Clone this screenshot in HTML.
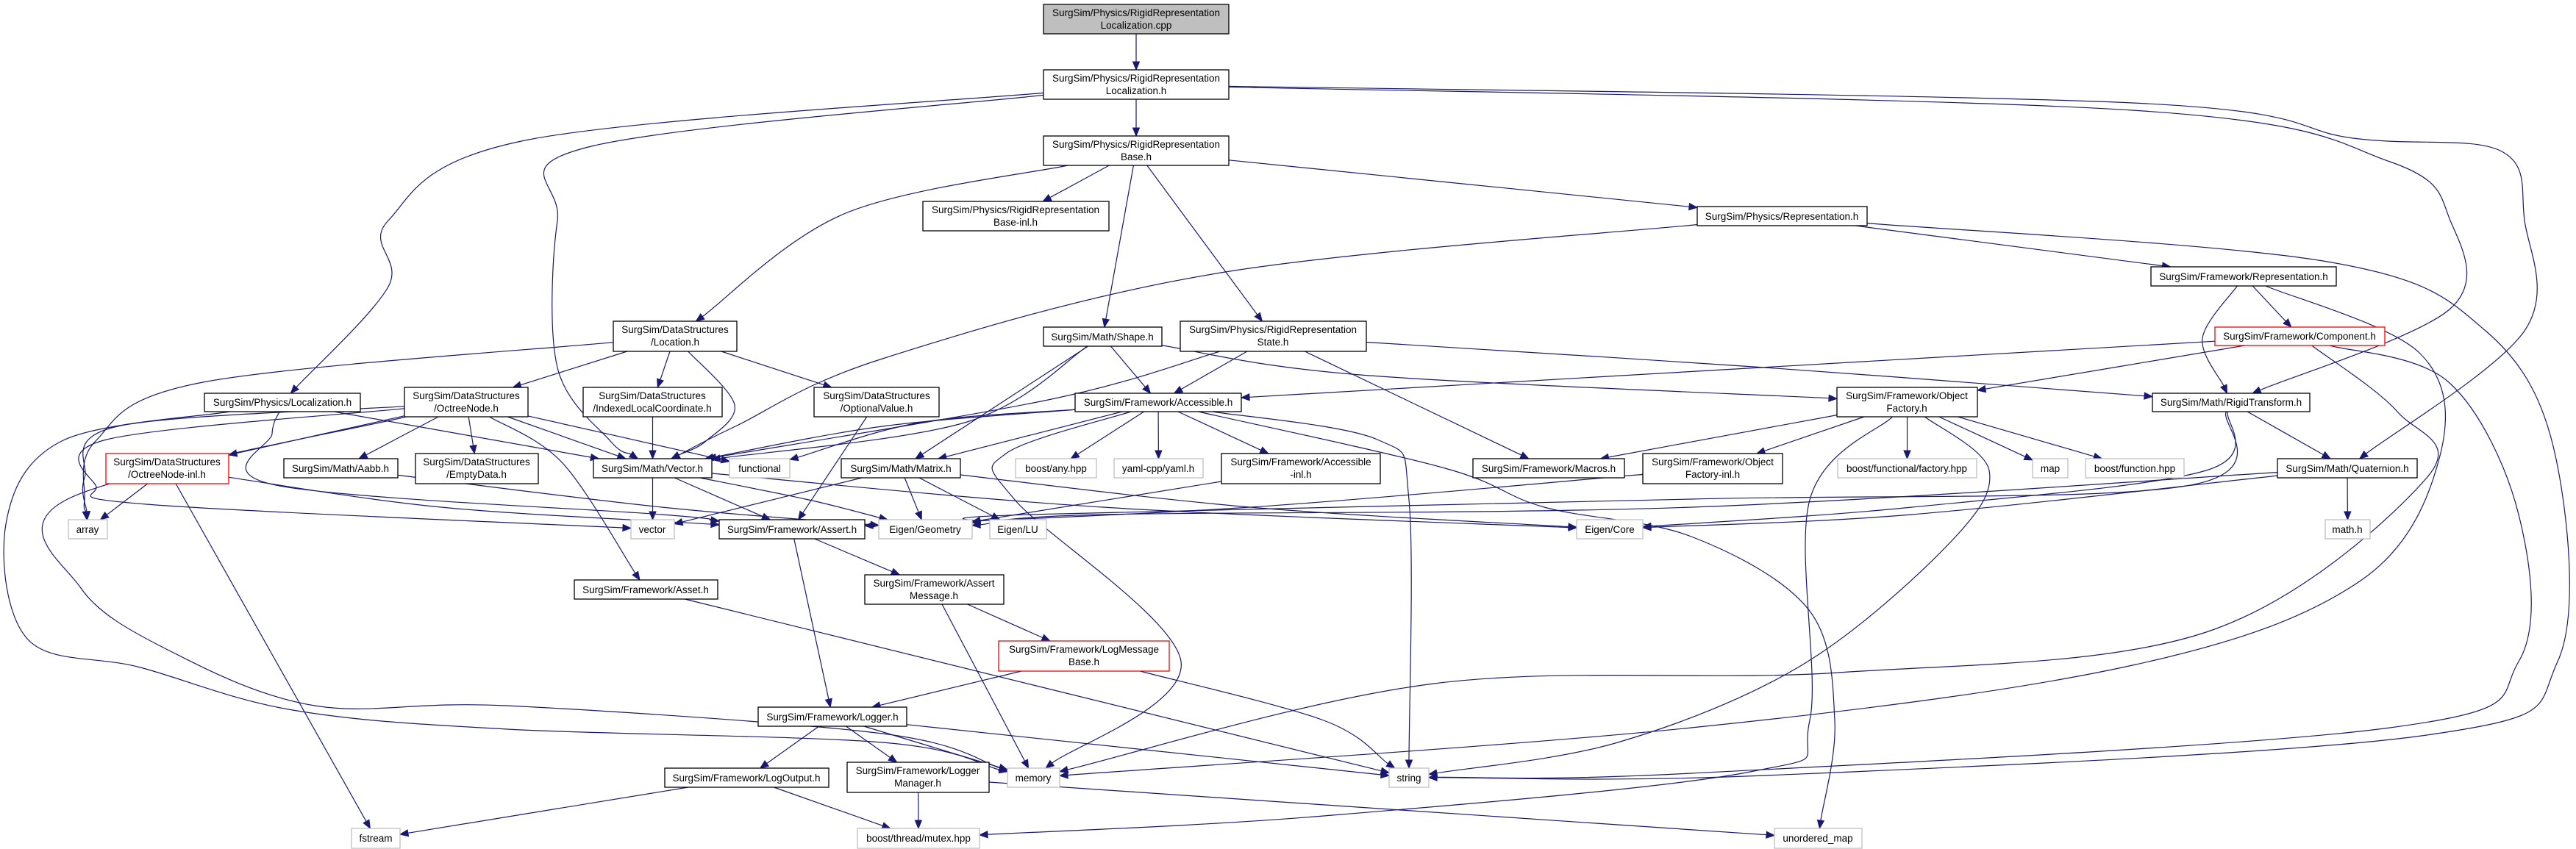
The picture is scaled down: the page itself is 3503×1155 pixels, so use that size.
<!DOCTYPE html>
<html><head><meta charset="utf-8">
<style>
html,body{margin:0;padding:0;background:#fff;}
svg{display:block;}
text{font-family:"Liberation Sans",Arial,sans-serif;font-size:13.5px;fill:#000;}
</style></head><body>
<svg id="g" width="3503" height="1155" viewBox="0 0 3503 1155" xmlns="http://www.w3.org/2000/svg">
<rect width="3503" height="1155" fill="#fff"/>
<g id="edges" fill="none" stroke="#191970" stroke-width="1.2"></g>
<g id="heads" fill="#191970" stroke="#191970" stroke-width="1"></g>
<g id="nodes" stroke-width="1.3">
<rect x="1419" y="6" width="252" height="40" fill="#bfbfbf" stroke="#000"/><text x="1545" y="22" text-anchor="middle">SurgSim/Physics/RigidRepresentation</text><text x="1545" y="39" text-anchor="middle">Localization.cpp</text>
<rect x="1419" y="95" width="252" height="40" fill="#fff" stroke="#000"/><text x="1545" y="111" text-anchor="middle">SurgSim/Physics/RigidRepresentation</text><text x="1545" y="128" text-anchor="middle">Localization.h</text>
<rect x="1419" y="185" width="252" height="40" fill="#fff" stroke="#000"/><text x="1545" y="201" text-anchor="middle">SurgSim/Physics/RigidRepresentation</text><text x="1545" y="218" text-anchor="middle">Base.h</text>
<rect x="1255" y="274" width="253" height="40" fill="#fff" stroke="#000"/><text x="1381" y="290" text-anchor="middle">SurgSim/Physics/RigidRepresentation</text><text x="1381" y="307" text-anchor="middle">Base-inl.h</text>
<rect x="2308" y="281" width="231" height="26" fill="#fff" stroke="#000"/><text x="2423" y="299" text-anchor="middle">SurgSim/Physics/Representation.h</text>
<rect x="2925" y="363" width="252" height="26" fill="#fff" stroke="#000"/><text x="3051" y="381" text-anchor="middle">SurgSim/Framework/Representation.h</text>
<rect x="3012" y="445" width="231" height="25" fill="#fff" stroke="#ff0000"/><text x="3127" y="462" text-anchor="middle">SurgSim/Framework/Component.h</text>
<rect x="2927" y="535" width="214" height="25" fill="#fff" stroke="#000"/><text x="3034" y="552" text-anchor="middle">SurgSim/Math/RigidTransform.h</text>
<rect x="2498" y="527" width="191" height="40" fill="#fff" stroke="#000"/><text x="2593" y="543" text-anchor="middle">SurgSim/Framework/Object</text><text x="2593" y="560" text-anchor="middle">Factory.h</text>
<rect x="1419" y="445" width="161" height="26" fill="#fff" stroke="#000"/><text x="1499" y="463" text-anchor="middle">SurgSim/Math/Shape.h</text>
<rect x="1605" y="437" width="253" height="41" fill="#fff" stroke="#000"/><text x="1731" y="453" text-anchor="middle">SurgSim/Physics/RigidRepresentation</text><text x="1731" y="470" text-anchor="middle">State.h</text>
<rect x="1462" y="535" width="226" height="25" fill="#fff" stroke="#000"/><text x="1575" y="552" text-anchor="middle">SurgSim/Framework/Accessible.h</text>
<rect x="834" y="437" width="168" height="41" fill="#fff" stroke="#000"/><text x="918" y="453" text-anchor="middle">SurgSim/DataStructures</text><text x="918" y="470" text-anchor="middle">/Location.h</text>
<rect x="278" y="535" width="212" height="25" fill="#fff" stroke="#000"/><text x="384" y="552" text-anchor="middle">SurgSim/Physics/Localization.h</text>
<rect x="550" y="527" width="168" height="40" fill="#fff" stroke="#000"/><text x="634" y="543" text-anchor="middle">SurgSim/DataStructures</text><text x="634" y="560" text-anchor="middle">/OctreeNode.h</text>
<rect x="793" y="527" width="189" height="40" fill="#fff" stroke="#000"/><text x="887" y="543" text-anchor="middle">SurgSim/DataStructures</text><text x="887" y="560" text-anchor="middle">/IndexedLocalCoordinate.h</text>
<rect x="1107" y="527" width="170" height="40" fill="#fff" stroke="#000"/><text x="1192" y="543" text-anchor="middle">SurgSim/DataStructures</text><text x="1192" y="560" text-anchor="middle">/OptionalValue.h</text>
<rect x="144" y="617" width="167" height="41" fill="#fff" stroke="#ff0000"/><text x="227" y="633" text-anchor="middle">SurgSim/DataStructures</text><text x="227" y="650" text-anchor="middle">/OctreeNode-inl.h</text>
<rect x="386" y="624" width="155" height="26" fill="#fff" stroke="#000"/><text x="463" y="642" text-anchor="middle">SurgSim/Math/Aabb.h</text>
<rect x="565" y="617" width="167" height="41" fill="#fff" stroke="#000"/><text x="648" y="633" text-anchor="middle">SurgSim/DataStructures</text><text x="648" y="650" text-anchor="middle">/EmptyData.h</text>
<rect x="807" y="624" width="161" height="26" fill="#fff" stroke="#000"/><text x="887" y="642" text-anchor="middle">SurgSim/Math/Vector.h</text>
<rect x="992" y="624" width="82" height="26" fill="#fff" stroke="#bfbfbf"/><text x="1033" y="642" text-anchor="middle">functional</text>
<rect x="1144" y="624" width="162" height="26" fill="#fff" stroke="#000"/><text x="1225" y="642" text-anchor="middle">SurgSim/Math/Matrix.h</text>
<rect x="1381" y="624" width="110" height="26" fill="#fff" stroke="#bfbfbf"/><text x="1436" y="642" text-anchor="middle">boost/any.hpp</text>
<rect x="1515" y="624" width="121" height="26" fill="#fff" stroke="#bfbfbf"/><text x="1575" y="642" text-anchor="middle">yaml-cpp/yaml.h</text>
<rect x="1661" y="617" width="216" height="41" fill="#fff" stroke="#000"/><text x="1769" y="633" text-anchor="middle">SurgSim/Framework/Accessible</text><text x="1769" y="650" text-anchor="middle">-inl.h</text>
<rect x="2003" y="624" width="206" height="26" fill="#fff" stroke="#000"/><text x="2106" y="642" text-anchor="middle">SurgSim/Framework/Macros.h</text>
<rect x="2234" y="617" width="190" height="41" fill="#fff" stroke="#000"/><text x="2329" y="633" text-anchor="middle">SurgSim/Framework/Object</text><text x="2329" y="650" text-anchor="middle">Factory-inl.h</text>
<rect x="2499" y="624" width="189" height="26" fill="#fff" stroke="#bfbfbf"/><text x="2593" y="642" text-anchor="middle">boost/functional/factory.hpp</text>
<rect x="2764" y="624" width="48" height="26" fill="#fff" stroke="#bfbfbf"/><text x="2788" y="642" text-anchor="middle">map</text>
<rect x="2836" y="624" width="134" height="26" fill="#fff" stroke="#bfbfbf"/><text x="2903" y="642" text-anchor="middle">boost/function.hpp</text>
<rect x="3097" y="624" width="190" height="26" fill="#fff" stroke="#000"/><text x="3192" y="642" text-anchor="middle">SurgSim/Math/Quaternion.h</text>
<rect x="93" y="707" width="53" height="26" fill="#fff" stroke="#bfbfbf"/><text x="119" y="725" text-anchor="middle">array</text>
<rect x="858" y="707" width="59" height="26" fill="#fff" stroke="#bfbfbf"/><text x="887" y="725" text-anchor="middle">vector</text>
<rect x="978" y="707" width="198" height="26" fill="#fff" stroke="#000"/><text x="1077" y="725" text-anchor="middle">SurgSim/Framework/Assert.h</text>
<rect x="1195" y="707" width="127" height="26" fill="#fff" stroke="#bfbfbf"/><text x="1258" y="725" text-anchor="middle">Eigen/Geometry</text>
<rect x="1346" y="707" width="77" height="26" fill="#fff" stroke="#bfbfbf"/><text x="1384" y="725" text-anchor="middle">Eigen/LU</text>
<rect x="2144" y="707" width="90" height="26" fill="#fff" stroke="#bfbfbf"/><text x="2189" y="725" text-anchor="middle">Eigen/Core</text>
<rect x="3162" y="707" width="61" height="26" fill="#fff" stroke="#bfbfbf"/><text x="3192" y="725" text-anchor="middle">math.h</text>
<rect x="781" y="789" width="195" height="26" fill="#fff" stroke="#000"/><text x="878" y="807" text-anchor="middle">SurgSim/Framework/Asset.h</text>
<rect x="1176" y="782" width="189" height="40" fill="#fff" stroke="#000"/><text x="1270" y="798" text-anchor="middle">SurgSim/Framework/Assert</text><text x="1270" y="815" text-anchor="middle">Message.h</text>
<rect x="1358" y="872" width="232" height="41" fill="#fff" stroke="#ff0000"/><text x="1474" y="888" text-anchor="middle">SurgSim/Framework/LogMessage</text><text x="1474" y="905" text-anchor="middle">Base.h</text>
<rect x="1031" y="962" width="202" height="26" fill="#fff" stroke="#000"/><text x="1132" y="980" text-anchor="middle">SurgSim/Framework/Logger.h</text>
<rect x="904" y="1045" width="223" height="26" fill="#fff" stroke="#000"/><text x="1015" y="1063" text-anchor="middle">SurgSim/Framework/LogOutput.h</text>
<rect x="1152" y="1037" width="193" height="41" fill="#fff" stroke="#000"/><text x="1248" y="1053" text-anchor="middle">SurgSim/Framework/Logger</text><text x="1248" y="1070" text-anchor="middle">Manager.h</text>
<rect x="1370" y="1045" width="71" height="26" fill="#fff" stroke="#bfbfbf"/><text x="1405" y="1063" text-anchor="middle">memory</text>
<rect x="1889" y="1045" width="54" height="26" fill="#fff" stroke="#bfbfbf"/><text x="1916" y="1063" text-anchor="middle">string</text>
<rect x="478" y="1127" width="66" height="27" fill="#fff" stroke="#bfbfbf"/><text x="511" y="1145" text-anchor="middle">fstream</text>
<rect x="1166" y="1127" width="166" height="27" fill="#fff" stroke="#bfbfbf"/><text x="1249" y="1145" text-anchor="middle">boost/thread/mutex.hpp</text>
<rect x="2413" y="1127" width="119" height="27" fill="#fff" stroke="#bfbfbf"/><text x="2472" y="1145" text-anchor="middle">unordered_map</text>
</g>
</svg>
<script>
(function(){
var N={cpp:[1419,6,1671,46],loch:[1419,95,1671,135],base:[1419,185,1671,225],baseinl:[1255,274,1508,314],
prep:[2308,281,2539,307],frep:[2925,363,3177,389],comp:[3012,445,3243,470],rt:[2927,535,3141,560],of:[2498,527,2689,567],
shape:[1419,445,1580,471],state:[1605,437,1858,478],acc:[1462,535,1688,560],loc:[834,437,1002,478],ploc:[278,535,490,560],
oct:[550,527,718,567],ilc:[793,527,982,567],opt:[1107,527,1277,567],octinl:[144,617,311,658],aabb:[386,624,541,650],
empty:[565,617,732,658],vec:[807,624,968,650],func:[992,624,1074,650],mat:[1144,624,1306,650],any:[1381,624,1491,650],
yaml:[1515,624,1636,650],accinl:[1661,617,1877,658],macros:[2003,624,2209,650],ofinl:[2234,617,2424,658],fact:[2499,624,2688,650],
map:[2764,624,2812,650],bfun:[2836,624,2970,650],quat:[3097,624,3287,650],array:[93,707,146,733],vector:[858,707,917,733],
assert:[978,707,1176,733],geom:[1195,707,1322,733],lu:[1346,707,1423,733],core:[2144,707,2234,733],math:[3162,707,3223,733],
asset:[781,789,976,815],amsg:[1176,782,1365,822],lmb:[1358,872,1590,913],logger:[1031,962,1233,988],logout:[904,1045,1127,1071],
lman:[1152,1037,1345,1078],memory:[1370,1045,1441,1071],string:[1889,1045,1943,1071],fstream:[478,1127,544,1154],
mutex:[1166,1127,1332,1154],umap:[2413,1127,2532,1154]};
var E=[
['cpp','loch'],['loch','base'],
['loch','ploc',[[719,190],[528,300],[528,390]]],
['loch','vec',[[800,200],[758,300],[758,500],[830,600]]],
['loch','rt',[[2900,150],[3250,220],[3332,300],[3332,420]]],
['loch','quat',[[2900,140],[3200,188],[3400,205],[3433,300],[3433,450]]],
['base','baseinl'],['base','loc',[[1150,290]]],['base','shape'],['base','state'],['base','prep'],
['prep','vec',[[1660,371],[1200,488],[1000,580]]],['prep','frep'],
['prep','string',[[3165,356],[3380,450],[3475,620],[3478,900],[3300,1000],[2400,1055]]],
['frep','comp'],['frep','rt',[[2995,460]]],
['frep','memory',[[3290,480],[3318,620],[3210,790],[2900,905],[2300,990]]],
['comp','acc'],['comp','of'],
['comp','string',[[3330,520],[3425,700],[3425,900],[3250,990],[2300,1052]]],
['comp','memory',[[3260,560],[3300,650],[3000,860],[2500,915],[1950,930]]],
['loc','oct'],['loc','ilc'],['loc','opt'],['loc','vec',[[999,551],[960,600]]],
['loc','array',[[276,520],[130,600],[115,680]]],
['shape','acc'],['shape','vec',[[1315,574]]],['shape','mat'],['shape','of',[[1850,510]]],
['state','acc'],['state','vec',[[1430,543]]],['state','macros'],['state','rt',[[2400,500]]],
['acc','vec',[[1200,580]]],['acc','func',[[1250,575]]],['acc','mat'],['acc','any'],['acc','yaml'],['acc','accinl'],
['acc','string',[[1873,598],[1916,680]]],
['acc','memory',[[1368,617],[1380,680],[1606,900]]],
['acc','umap',[[1965,637],[2100,690],[2300,730],[2460,830],[2495,980]]],
['of','macros'],['of','ofinl'],['of','fact'],['of','map'],['of','bfun'],
['of','string',[[2705,640],[2650,740],[2450,905],[2200,1010]]],
['of','mutex',[[2461,680],[2461,980],[2380,1050],[1800,1110]]],
['rt','quat'],['rt','geom',[[2973,661],[2300,679],[1400,700]]],['rt','core',[[3000,640],[2600,690]]],
['quat','math'],['quat','core',[[2600,700]]],['quat','geom',[[2300,690],[1500,700]]],
['ploc','vec'],['ploc','assert',[[370,590],[375,660],[900,700]]],
['ploc','memory',[[84,600],[8,713],[38,870],[191,908],[398,966],[690,992],[1200,1010]]],
['oct','octinl'],['oct','aabb'],['oct','empty'],['oct','vec'],['oct','func'],['oct','asset',[[765,630]]],
['oct','array',[[160,580],[115,650]]],
['oct','vector',[[145,598],[130,660],[199,686]]],
['oct','memory',[[90,680],[110,800],[230,885],[428,960],[689,960],[1200,998]]],
['ilc','vec'],['opt','assert'],
['octinl','array'],['octinl','fstream'],['octinl','assert',[[600,690]]],
['aabb','geom',[[900,690]]],['vec','vector'],['vec','assert'],['vec','geom',[[1100,680]]],['vec','core',[[1500,690]]],
['mat','vector'],['mat','geom'],['mat','lu'],['mat','core',[[1700,690]]],
['accinl','geom'],['ofinl','assert',[[1700,690]]],
['assert','amsg'],['assert','logger'],['asset','string'],
['amsg','lmb'],['amsg','memory'],['lmb','logger'],['lmb','string',[[1800,980]]],
['logger','logout'],['logger','lman'],['logger','memory'],['logger','string'],
['logout','fstream'],['logout','mutex'],['lman','mutex'],['lman','umap']
];
function c(b){return [(b[0]+b[2])/2,(b[1]+b[3])/2];}
function clip(b,p){var o=c(b),dx=p[0]-o[0],dy=p[1]-o[1];var hw=(b[2]-b[0])/2,hh=(b[3]-b[1])/2;
 var t=Math.min(dx?hw/Math.abs(dx):1e9,dy?hh/Math.abs(dy):1e9);return [o[0]+dx*t,o[1]+dy*t];}
var eg=document.getElementById('edges'),hg=document.getElementById('heads'),ns='http://www.w3.org/2000/svg';
E.forEach(function(e){var s=N[e[0]],d=N[e[1]],w=e[2]||[];
 var first=w.length?w[0]:c(d),last=w.length?w[w.length-1]:c(s);
 var P=[clip(s,first)].concat(w).concat([clip(d,last)]);
 var tip=P[P.length-1],prev=P[P.length-2];var dx=tip[0]-prev[0],dy=tip[1]-prev[1],L=Math.sqrt(dx*dx+dy*dy)||1;dx/=L;dy/=L;
 var base=[tip[0]-dx*11,tip[1]-dy*11];P[P.length-1]=base;
 var dstr='M'+P[0][0].toFixed(1)+','+P[0][1].toFixed(1);
 for(var i=0;i<P.length-1;i++){var p0=P[i-1]||P[i],p1=P[i],p2=P[i+1],p3=P[i+2]||P[i+1];
  var c1=[p1[0]+(p2[0]-p0[0])/6,p1[1]+(p2[1]-p0[1])/6],c2=[p2[0]-(p3[0]-p1[0])/6,p2[1]-(p3[1]-p1[1])/6];
  dstr+=' C'+c1[0].toFixed(1)+','+c1[1].toFixed(1)+' '+c2[0].toFixed(1)+','+c2[1].toFixed(1)+' '+p2[0].toFixed(1)+','+p2[1].toFixed(1);}
 var pa=document.createElementNS(ns,'path');pa.setAttribute('d',dstr);eg.appendChild(pa);
 var px=-dy,py=dx;var poly=document.createElementNS(ns,'polygon');
 poly.setAttribute('points',tip[0]+','+tip[1]+' '+(base[0]+px*4.5)+','+(base[1]+py*4.5)+' '+(base[0]-px*4.5)+','+(base[1]-py*4.5));
 hg.appendChild(poly);});
})();
</script>
</body></html>
